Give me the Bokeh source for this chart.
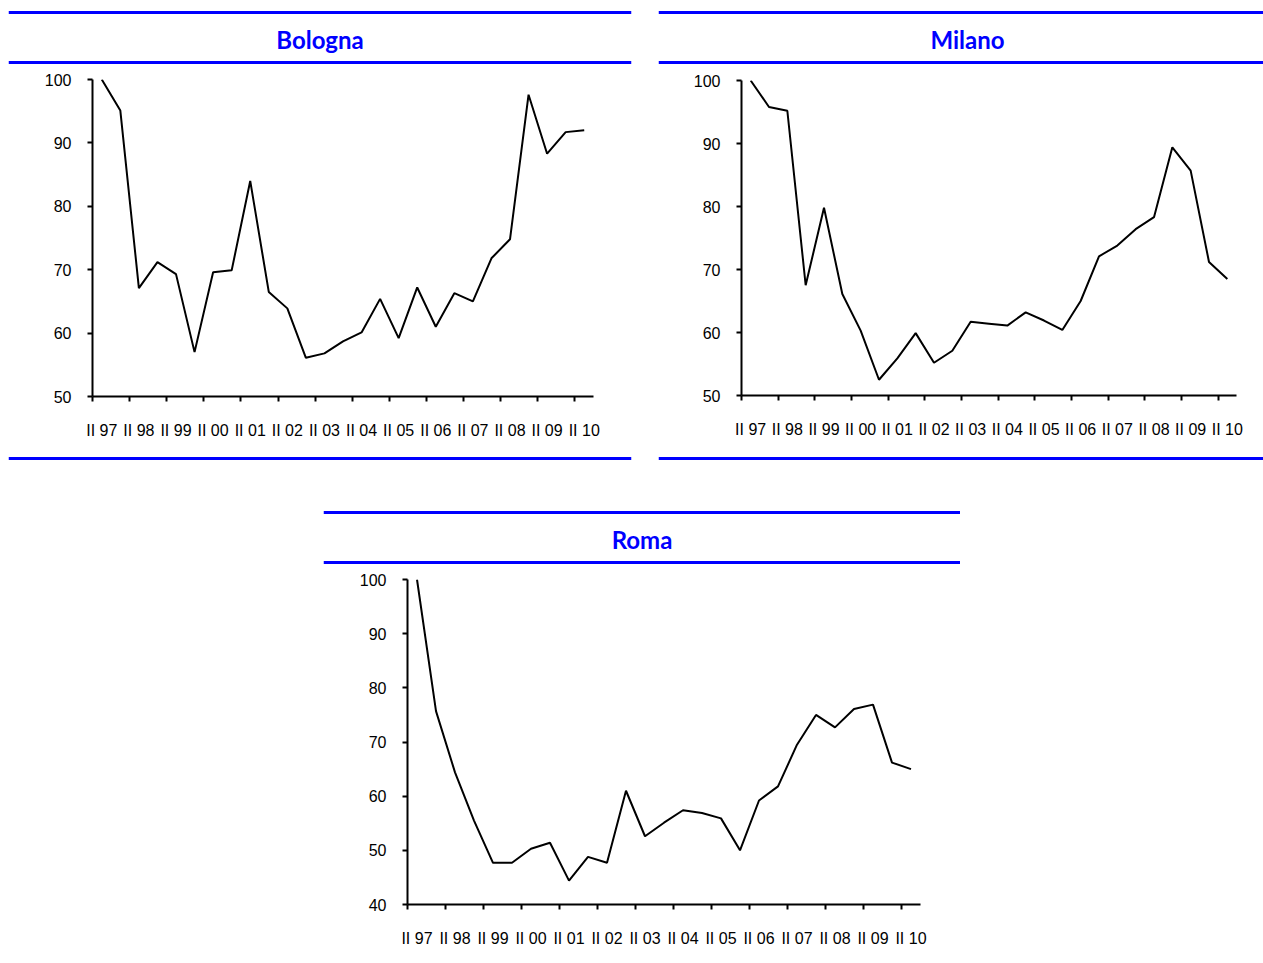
from bokeh.plotting import figure
from bokeh.models import Range1d, FixedTicker, Span, Spacer
from bokeh.layouts import column, row
from bokeh.core.properties import value
from bokeh.embed import file_html
from bokeh.resources import INLINE

# Half-year periods (II 97 .. II 10)
periods = ["II 97", "I 98", "II 98", "I 99", "II 99", "I 00", "II 00", "I 01",
           "II 01", "I 02", "II 02", "I 03", "II 03", "I 04", "II 04", "I 05",
           "II 05", "I 06", "II 06", "I 07", "II 07", "I 08", "II 08", "I 09",
           "II 09", "I 10", "II 10"]

bologna = [100, 95.1, 67.1, 71.2, 69.3, 57.0, 69.6, 69.9, 84.0, 66.5, 63.9, 56.1,
           56.8, 58.7, 60.1, 65.4, 59.2, 67.2, 61.0, 66.3, 65.0, 71.8, 74.8, 97.6,
           88.3, 91.7, 92.0]
milano = [100, 95.8, 95.2, 67.5, 79.8, 66.1, 60.3, 52.5, 55.9, 59.9, 55.2, 57.1,
          61.7, 61.4, 61.1, 63.2, 61.9, 60.4, 65.0, 72.1, 73.8, 76.4, 78.3, 89.4,
          85.7, 71.2, 68.5]
roma = [100, 75.7, 64.4, 55.5, 47.7, 47.7, 50.3, 51.4, 44.4, 48.8, 47.7, 61.0,
        52.6, 55.1, 57.4, 56.9, 55.9, 50.0, 59.2, 61.8, 69.5, 75.0, 72.7, 76.1,
        76.9, 66.2, 65.0]

y_ticks_bologna = [50, 60, 70, 80, 90, 100]
y_ticks_milano = [50, 60, 70, 80, 90, 100]
y_ticks_roma = [40, 50, 60, 70, 80, 90, 100]

BLUE = "#0000ff"
LABEL_FONT = "Liberation Sans"


def bare(width, height, xr, yr, left, right):
    p = figure(width=width, height=height, x_range=xr, y_range=yr,
               x_axis_type=None, y_axis_type=None, toolbar_location=None,
               output_backend="svg", min_border=0,
               min_border_left=left, min_border_right=right,
               frame_align=False)
    p.outline_line_color = None
    p.xgrid.visible = False
    p.ygrid.visible = False
    return p


def header(title, width, title_x, line_left, line_right):
    # frame spans the rule's width; x coordinates are panel pixels
    p = bare(width, 66, Range1d(line_left, line_right), Range1d(66, 0),
             line_left, width - line_right)
    for loc in (12, 62):
        p.add_layout(Span(location=loc, dimension="width", line_color=BLUE,
                          line_width=3))
    p.text(x=[title_x], y=[39], text=[title], text_align="center",
           text_baseline="middle", text_color=BLUE,
           text_font=value("Lato"), text_font_style="bold",
           text_font_size="24px")
    return p


def footer(width, line_left, line_right):
    p = bare(width, 18, Range1d(line_left, line_right), Range1d(18, 0),
             line_left, width - line_right)
    p.add_layout(Span(location=6, dimension="width", line_color=BLUE,
                      line_width=3))
    return p


def chart(values, yticks, width, height, left, right, top, bottom):
    n = len(periods)
    p = figure(width=width, height=height,
               x_range=Range1d(-0.5, n - 0.5),
               y_range=Range1d(yticks[0], yticks[-1]),
               toolbar_location=None, output_backend="svg",
               min_border_left=left, min_border_right=right,
               min_border_top=top, min_border_bottom=bottom,
               frame_align=False)
    p.outline_line_color = None
    p.xgrid.visible = False
    p.ygrid.visible = False
    p.line(list(range(n)), values, line_color="black", line_width=2)

    xa = p.xaxis[0]
    xa.ticker = FixedTicker(ticks=list(range(0, n, 2)),
                            minor_ticks=[i - 0.5 for i in range(0, n, 2)])
    xa.major_label_overrides = {i: periods[i] for i in range(0, n, 2)}
    xa.major_tick_out = 0
    xa.major_tick_in = 0
    xa.major_tick_line_color = None
    xa.minor_tick_out = 5
    xa.minor_tick_in = 0
    xa.minor_tick_line_color = "black"
    xa.minor_tick_line_width = 2
    xa.major_label_standoff = 20
    xa.axis_line_width = 2
    xa.axis_line_color = "black"
    xa.major_label_text_font = LABEL_FONT
    xa.major_label_text_font_size = "16px"
    xa.major_label_text_color = "black"

    ya = p.yaxis[0]
    ya.ticker = FixedTicker(ticks=yticks, minor_ticks=[])
    ya.major_tick_out = 5
    ya.major_tick_in = 0
    ya.major_tick_line_width = 2
    ya.major_tick_line_color = "black"
    ya.minor_tick_line_color = None
    ya.major_label_standoff = 16
    ya.axis_line_width = 2
    ya.axis_line_color = "black"
    ya.major_label_text_font = LABEL_FONT
    ya.major_label_text_font_size = "16px"
    ya.major_label_text_color = "black"
    return p


# Bologna panel (x 0..640)
b_panel = column(
    header("Bologna", 640, 319.5, 8, 631),
    chart(bologna, y_ticks_bologna, 640, 386, 92, 47, 13, 56),
    footer(640, 8, 631),
    spacing=0,
)

# Milano panel (x 640..1263)
m_panel = column(
    header("Milano", 623, 327, 18, 623),
    chart(milano, y_ticks_milano, 623, 386, 101, 27, 14, 57),
    footer(623, 18, 623),
    spacing=0,
)

# Roma panel (x 323..960)
r_panel = column(
    header("Roma", 637, 318.5, 0, 637),
    chart(roma, y_ticks_roma, 637, 397, 84, 40, 13, 59),
    spacing=0,
)

layout = column(
    row(b_panel, m_panel, spacing=0),
    Spacer(width=1263, height=30),
    row(Spacer(width=323, height=10), r_panel, spacing=0),
    spacing=0,
)

open("out.html", "w").write(file_html(layout, INLINE))
